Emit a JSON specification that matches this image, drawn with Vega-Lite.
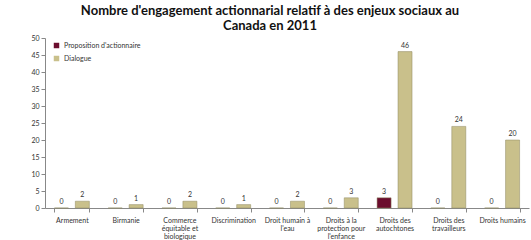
{
  "$schema": "https://vega.github.io/schema/vega-lite/v6.json",
  "autosize": {"type": "none"},
  "width": 484,
  "height": 170,
  "padding": {"left": 45, "top": 38, "right": 2, "bottom": 32},
  "background": "white",
  "config": {"view": {"stroke": null}, "font": "Lato"},
  "title": {
    "text": ["Nombre d'engagement actionnarial relatif à des enjeux sociaux au", "Canada en 2011"],
    "fontSize": 13,
    "fontWeight": "bold",
    "font": "Lato",
    "color": "#111",
    "anchor": "middle",
    "dx": -17,
    "offset": 1,
    "lineHeight": 15
  },
  "data": {
    "values": [
      {"enjeu": "Armement", "type": "Proposition d'actionnaire", "n": 0},
      {"enjeu": "Armement", "type": "Dialogue", "n": 2},
      {"enjeu": "Birmanie", "type": "Proposition d'actionnaire", "n": 0},
      {"enjeu": "Birmanie", "type": "Dialogue", "n": 1},
      {"enjeu": "Commerce|équitable et|biologique", "type": "Proposition d'actionnaire", "n": 0},
      {"enjeu": "Commerce|équitable et|biologique", "type": "Dialogue", "n": 2},
      {"enjeu": "Discrimination", "type": "Proposition d'actionnaire", "n": 0},
      {"enjeu": "Discrimination", "type": "Dialogue", "n": 1},
      {"enjeu": "Droit humain à|l'eau", "type": "Proposition d'actionnaire", "n": 0},
      {"enjeu": "Droit humain à|l'eau", "type": "Dialogue", "n": 2},
      {"enjeu": "Droits à la|protection pour|l'enfance", "type": "Proposition d'actionnaire", "n": 0},
      {"enjeu": "Droits à la|protection pour|l'enfance", "type": "Dialogue", "n": 3},
      {"enjeu": "Droits des|autochtones", "type": "Proposition d'actionnaire", "n": 3},
      {"enjeu": "Droits des|autochtones", "type": "Dialogue", "n": 46},
      {"enjeu": "Droits des|travailleurs", "type": "Proposition d'actionnaire", "n": 0},
      {"enjeu": "Droits des|travailleurs", "type": "Dialogue", "n": 24},
      {"enjeu": "Droits humains", "type": "Proposition d'actionnaire", "n": 0},
      {"enjeu": "Droits humains", "type": "Dialogue", "n": 20}
    ]
  },
  "encoding": {
    "x": {
      "field": "enjeu", "type": "nominal", "sort": null, "title": null,
      "scale": {"paddingInner": 0.35, "paddingOuter": 0.175},
      "axis": {
        "labelAngle": 0, "tickBand": "extent", "labelExpr": "split(datum.label, '|')",
        "labelFontSize": 7, "labelColor": "#333", "labelLineHeight": 8,
        "domainColor": "#888", "tickColor": "#888", "tickSize": 4, "labelPadding": 4
      }
    },
    "xOffset": {"field": "type", "sort": ["Proposition d'actionnaire", "Dialogue"], "scale": {"paddingInner": 0.33}},
    "y": {
      "field": "n", "type": "quantitative", "title": null,
      "scale": {"domain": [0, 50]},
      "axis": {
        "values": [0, 5, 10, 15, 20, 25, 30, 35, 40, 45, 50], "grid": false,
        "labelFontSize": 7, "labelColor": "#333", "domainColor": "#888", "tickColor": "#888", "tickSize": 4
      }
    }
  },
  "layer": [
    {
      "mark": {"type": "bar", "stroke": "#8f8860", "strokeWidth": 0.5},
      "encoding": {
        "color": {
          "field": "type", "type": "nominal", "title": null,
          "scale": {"domain": ["Proposition d'actionnaire", "Dialogue"], "range": ["#6b0d2e", "#c9c08b"]},
          "legend": {
            "orient": "none", "legendX": 8, "legendY": 4, "symbolType": "square",
            "symbolSize": 30, "labelFontSize": 7, "labelColor": "#333", "rowPadding": 5, "symbolStrokeWidth": 0
          }
        }
      }
    },
    {
      "mark": {"type": "text", "dy": -6, "fontSize": 7, "color": "#333"},
      "encoding": {"text": {"field": "n", "type": "quantitative"}}
    }
  ]
}
